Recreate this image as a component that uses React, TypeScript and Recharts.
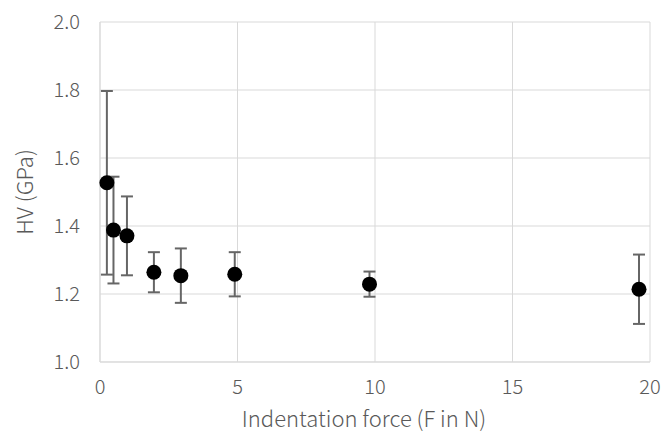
import React from "react";
import {
  ScatterChart, Scatter, XAxis, YAxis, CartesianGrid, ErrorBar,
} from "recharts";

// indentation force (N), Vickers hardness (GPa) and its error (GPa)
const force = [0.25, 0.49, 0.98, 1.96, 2.94, 4.9, 9.8, 19.6];
const hv = [1.527, 1.388, 1.371, 1.264, 1.254, 1.258, 1.229, 1.214];
const hvErr = [0.27, 0.157, 0.116, 0.059, 0.08, 0.065, 0.037, 0.102];

const xTicks = [0, 5, 10, 15, 20];
const yTicks = [1.0, 1.2, 1.4, 1.6, 1.8, 2.0];

const data = force.map((f, i) => ({ f, hv: hv[i], err: hvErr[i] }));

const FONT = "'Noto Sans CJK SC', 'Noto Sans', sans-serif";
const GREY = "#595959";

const Dot = (props: any) => <circle cx={props.cx} cy={props.cy} r={7.5} fill="#000" />;

export default function App() {
  return (
    <div style={{ position: "absolute", left: 0, top: 0, background: "#fff", fontFamily: FONT }}>
      <ScatterChart width={665} height={440} margin={{ top: 22, right: 15, bottom: 0, left: 0 }}>
        <CartesianGrid stroke="#d9d9d9" strokeWidth={1} />
        <XAxis
          type="number"
          dataKey="f"
          domain={[0, 20]}
          ticks={xTicks}
          height={78}
          tickLine={false}
          tickSize={0}
          tickMargin={18}
          axisLine={{ stroke: "#d9d9d9" }}
          tick={{ fill: GREY, fontSize: 20, fontFamily: FONT, fontWeight: 300 }}
          label={{ value: "Indentation force (F in N)", position: "insideBottom", offset: 13, dx: -11, fill: GREY, fontSize: 22, fontFamily: FONT, fontWeight: 300 }}
        />
        <YAxis
          type="number"
          dataKey="hv"
          domain={[1.0, 2.0]}
          ticks={yTicks}
          width={100}
          tickLine={false}
          tickSize={0}
          tickMargin={20}
          axisLine={{ stroke: "#d9d9d9" }}
          tickFormatter={(v: number) => v.toFixed(1)}
          tick={{ fill: GREY, fontSize: 20, fontFamily: FONT, fontWeight: 300 }}
          label={{ value: "HV (GPa)", angle: -90, position: "center", dx: -25, fill: GREY, fontSize: 22, fontFamily: FONT, fontWeight: 300 }}
        />
        <Scatter data={data} shape={Dot} isAnimationActive={false}>
          <ErrorBar dataKey="err" direction="y" width={6} stroke="#666" strokeWidth={2} isAnimationActive={false} />
        </Scatter>
      </ScatterChart>
    </div>
  );
}
